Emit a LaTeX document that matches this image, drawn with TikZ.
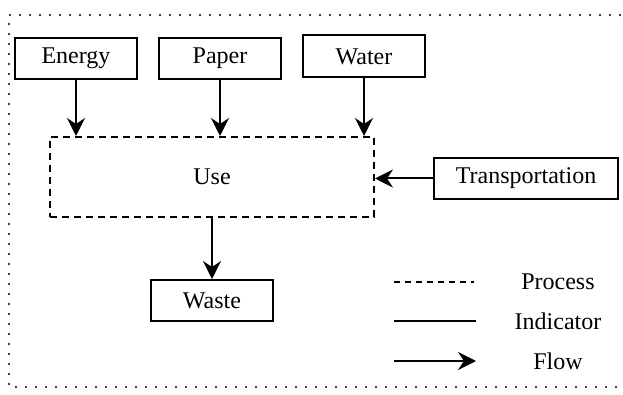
\documentclass[tikz,border=0pt]{standalone}
\usepackage{fontspec}
\setmainfont{Liberation Serif}
\usetikzlibrary{arrows.meta}
\tikzset{
  indicator/.style={draw, line width=2pt, minimum width=122pt, minimum height=41pt, inner sep=0pt,
    font=\fontsize{24}{28}\selectfont},
  process/.style={draw, line width=2pt, dash pattern=on 7pt off 5pt, inner sep=0pt,
    font=\fontsize{24}{28}\selectfont},
  flow/.style={line width=2pt, -{Stealth[length=18pt, width=18pt, inset=6pt]}},
  legendtext/.style={font=\fontsize{24}{28}\selectfont}
}
\begin{document}
\begin{tikzpicture}[x=1pt, y=-1pt]
        \useasboundingbox (0,0) rectangle (623,395);
        % Dotted frame
        \coordinate (frame-tr) at (630,15);
        \coordinate (frame-tl) at (9,15);
        \coordinate (frame-bl) at (9,387);
        \coordinate (frame-br) at (630,387);
        \draw[line width=2.2pt, line cap=round, dash pattern=on 0pt off 10pt]
          (frame-tr) -- (frame-tl) -- (frame-bl) -- (frame-br);
        % Inputs
        \node[indicator] (energy) at (76,58.5) {Energy};
        \node[indicator] (paper) at (220,58.5) {Paper};
        \node[indicator, minimum height=42pt] (water) at (364,56.5) {Water};
        \node[indicator, minimum width=184pt] (transport) at (526,178.5) {Transportation};
        % Process and output
        \node[process, minimum width=324pt, minimum height=80pt] (use) at (212,177) {Use};
        \node[indicator] (waste) at (212,300.5) {Waste};
        % Flows
        \foreach \src in {energy, paper, water} {
          \draw[flow] (\src.south) -- (\src.south |- use.north);
        }
        \draw[flow] (transport.west) -- (use.east |- transport.west);
        \draw[flow] (use.south) -- (waste.north);
        % Legend
        \node[legendtext] (lg-process) at (558,282) {Process};
        \node[legendtext] (lg-indicator) at (558,321) {Indicator};
        \node[legendtext] (lg-flow) at (558,361) {Flow};
        \coordinate (lp-a) at (394,282);
        \coordinate (lp-b) at (474,282);
        \coordinate (li-a) at (394,321);
        \coordinate (li-b) at (476,321);
        \coordinate (lf-a) at (394,361);
        \coordinate (lf-b) at (476,361);
        \draw[line width=2pt, dash pattern=on 6pt off 5pt] (lp-a) -- (lp-b);
        \draw[line width=2pt] (li-a) -- (li-b);
        \draw[flow] (lf-a) -- (lf-b);
      \end{tikzpicture}
\end{document}
